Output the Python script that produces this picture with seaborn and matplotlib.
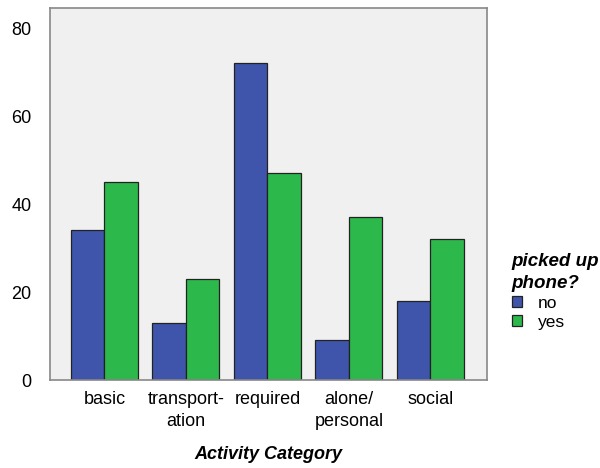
import pandas as pd
import seaborn as sns
import matplotlib.pyplot as plt

# Data
categories = ["basic", "transport-\nation", "required", "alone/\npersonal", "social"]
no_counts = [34, 13, 72, 9, 18]
yes_counts = [45, 23, 47, 37, 32]
groups = ["no", "yes"]
colors = ["#3f55ab", "#2db84b"]

df = pd.DataFrame({
    "category": categories * 2,
    "count": no_counts + yes_counts,
    "picked": [groups[0]] * len(categories) + [groups[1]] * len(categories),
})

sns.set_style("white")
plt.rcParams["font.family"] = ["Liberation Sans", "DejaVu Sans"]
plt.rcParams["text.color"] = "black"
plt.rcParams["axes.labelcolor"] = "black"

fig = plt.figure(figsize=(6, 4.68), dpi=100)
ax = fig.add_axes([0.083, 0.188, 0.728, 0.795])
ax.set_facecolor("#f0f0f0")

sns.barplot(data=df, x="category", y="count", hue="picked", palette=colors,
            width=0.82, edgecolor="#222222", linewidth=0.9, ax=ax, saturation=1)

ax.set_ylim(0, 84.6)
ax.set_xlim(-0.67, 4.69)
ax.set_yticks([0, 20, 40, 60, 80])
ax.tick_params(axis="y", length=5, width=0.8, color="#777777", labelsize=13, pad=8,
               labelcolor="black")
ax.tick_params(axis="x", length=0, labelsize=13, pad=8, labelcolor="black")
for t in ax.get_xticklabels():
    t.set_linespacing(1.35)
ax.set_ylabel("")
ax.set_xlabel("Activity Category", fontsize=13, fontweight="bold", style="italic", labelpad=12)
for s in ax.spines.values():
    s.set_color("#888888")
    s.set_linewidth(1.2)

handles, labels = ax.get_legend_handles_labels()
ax.legend_.remove()
leg = fig.legend(handles, labels, loc="upper left", bbox_to_anchor=(0.853, 0.46),
                 frameon=False, title="picked up\nphone?", fontsize=12.5,
                 handlelength=0.6, handleheight=0.6, handletextpad=0.9,
                 labelspacing=0.2, borderaxespad=0, borderpad=0)
leg.get_title().set_fontweight("bold")
leg.get_title().set_fontstyle("italic")
leg.get_title().set_fontsize(13.5)
leg.get_title().set_linespacing(1.4)
leg.get_title().set_color("black")
for t in leg.get_texts():
    t.set_color("black")
leg._legend_box.align = "left"
leg._legend_box.sep = 3

fig.savefig("out.png", dpi=100)
